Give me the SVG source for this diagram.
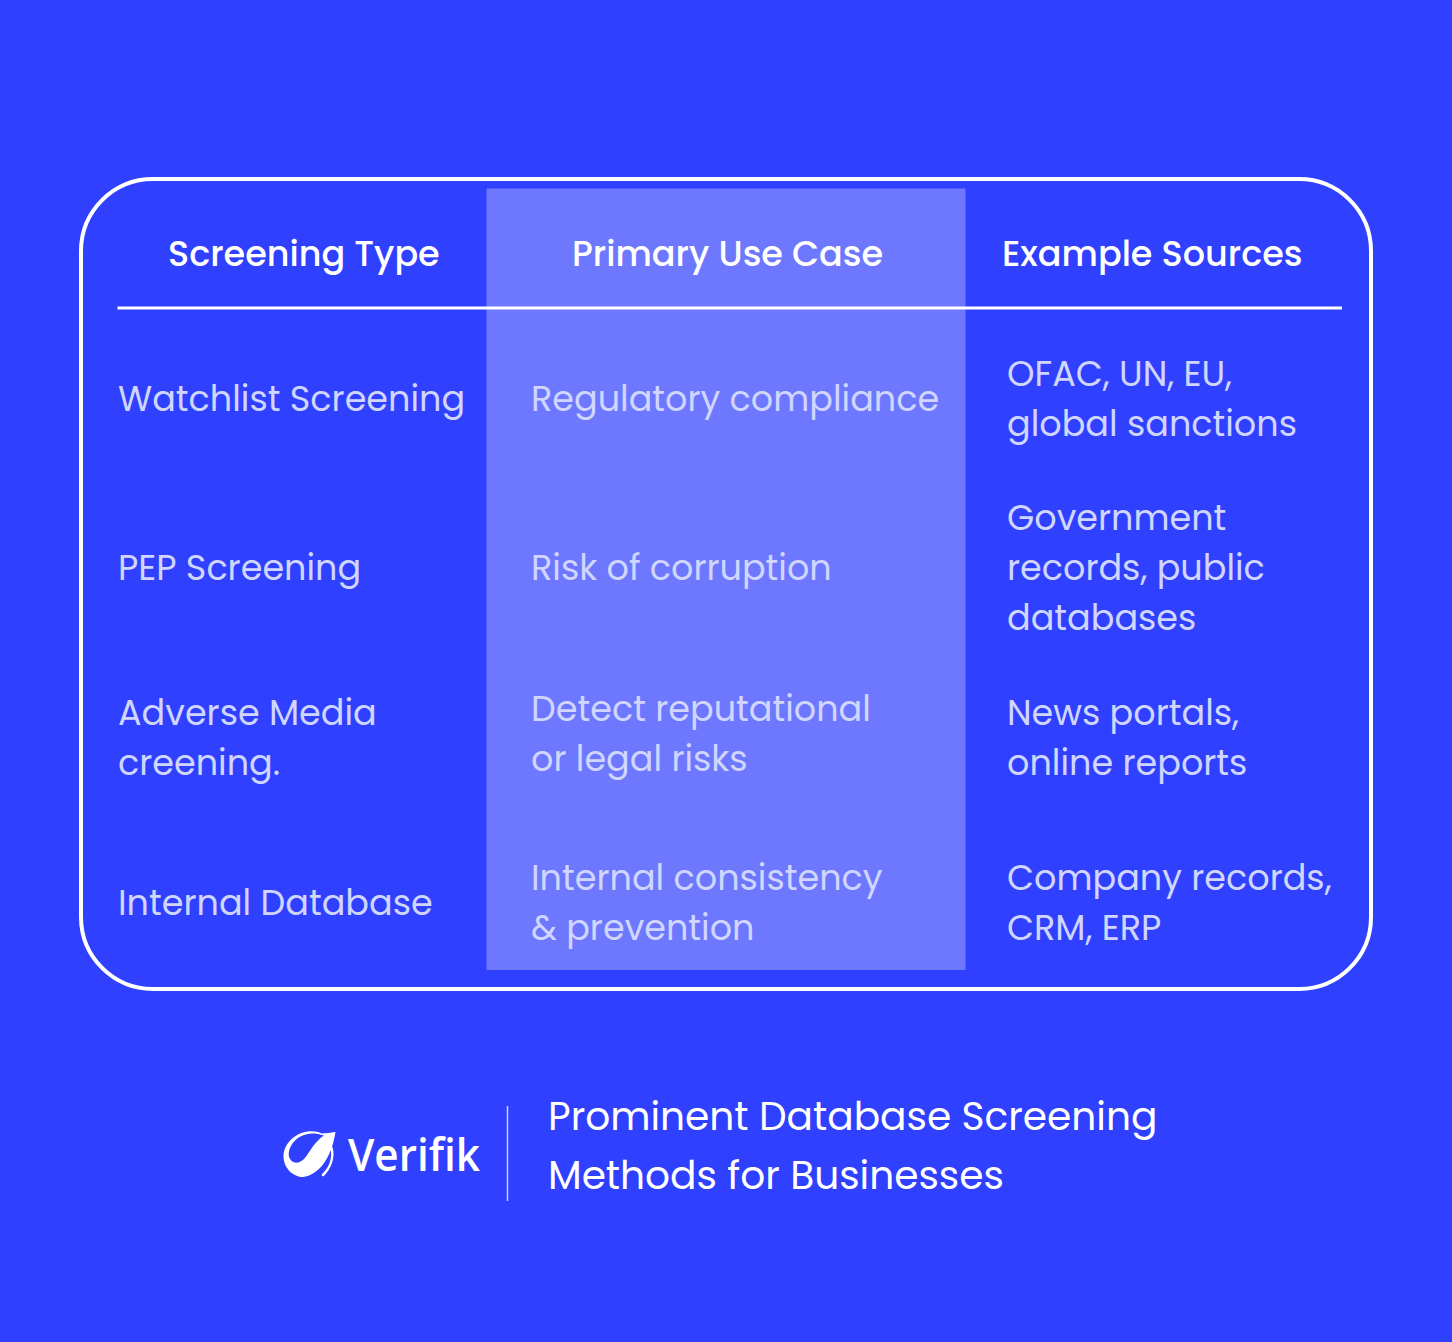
<svg xmlns="http://www.w3.org/2000/svg" width="1452" height="1342" viewBox="0 0 1452 1342">
<style>
text{font-family:"Poppins","Inter","Noto Sans",sans-serif}
.h{font-size:35px;font-weight:500;fill:#fff}
.c{font-size:35px;fill:#d0d6ff}
.t{font-size:39.100px;fill:#fff}
</style>
<rect width="1452" height="1342" fill="#2f40ff"/>
<rect x="486.500" y="188.500" width="479" height="781.500" fill="#6d78ff"/>
<rect x="81" y="179" width="1290" height="810" rx="72" fill="none" stroke="#fff" stroke-width="4"/>
<line x1="117.500" y1="308" x2="1342" y2="308" stroke="#fff" stroke-width="3"/>
<text class="h" x="168" y="266">Screening Type</text>
<text class="h" x="572" y="266">Primary Use Case</text>
<text class="h" x="1002" y="266">Example Sources</text>
<text class="c" x="118" y="411">Watchlist Screening</text>
<text class="c" x="531" y="411">Regulatory compliance</text>
<text class="c" x="1007" y="386">OFAC, UN, EU,</text>
<text class="c" x="1007" y="436">global sanctions</text>
<text class="c" x="118" y="580">PEP Screening</text>
<text class="c" x="531" y="580">Risk of corruption</text>
<text class="c" x="1007" y="530">Government</text>
<text class="c" x="1007" y="580">records, public</text>
<text class="c" x="1007" y="630">databases</text>
<text class="c" x="118" y="725">Adverse Media</text>
<text class="c" x="118" y="775">creening.</text>
<text class="c" x="531" y="721">Detect reputational</text>
<text class="c" x="531" y="771">or legal risks</text>
<text class="c" x="1007" y="725">News portals,</text>
<text class="c" x="1007" y="775">online reports</text>
<text class="c" x="118" y="915">Internal Database</text>
<text class="c" x="531" y="890">Internal consistency</text>
<text class="c" x="531" y="940">&amp; prevention</text>
<text class="c" x="1007" y="890">Company records,</text>
<text class="c" x="1007" y="940">CRM, ERP</text>
<g id="logo">
<path d="M323 1175C330 1168 334 1158 331.500 1148" fill="none" stroke="#fff" stroke-width="2.500" stroke-linecap="round"/>
<path d="M335.500 1132C330 1133 326 1133 322 1133.500C306 1126 284 1138 283.500 1156C283.500 1169 294 1177 303 1177C318 1175 331 1160 335.500 1132ZM324 1135.500C314 1142 310 1152 304 1159C299 1164 292 1164 289.500 1158C285.500 1147 300 1127 324 1135.500Z" fill="#fff" fill-rule="evenodd"/>
<text x="348" y="1171" font-size="45" font-weight="600" textLength="132" lengthAdjust="spacingAndGlyphs" style="font-family:'Open Sans',sans-serif" fill="#fff">Verifik</text>
</g>
<line x1="507.500" y1="1106" x2="507.500" y2="1201" stroke="#c9d0ff" stroke-width="1.500"/>
<text class="t" x="548" y="1130">Prominent Database Screening</text>
<text class="t" x="548" y="1189">Methods for Businesses</text>
</svg>
